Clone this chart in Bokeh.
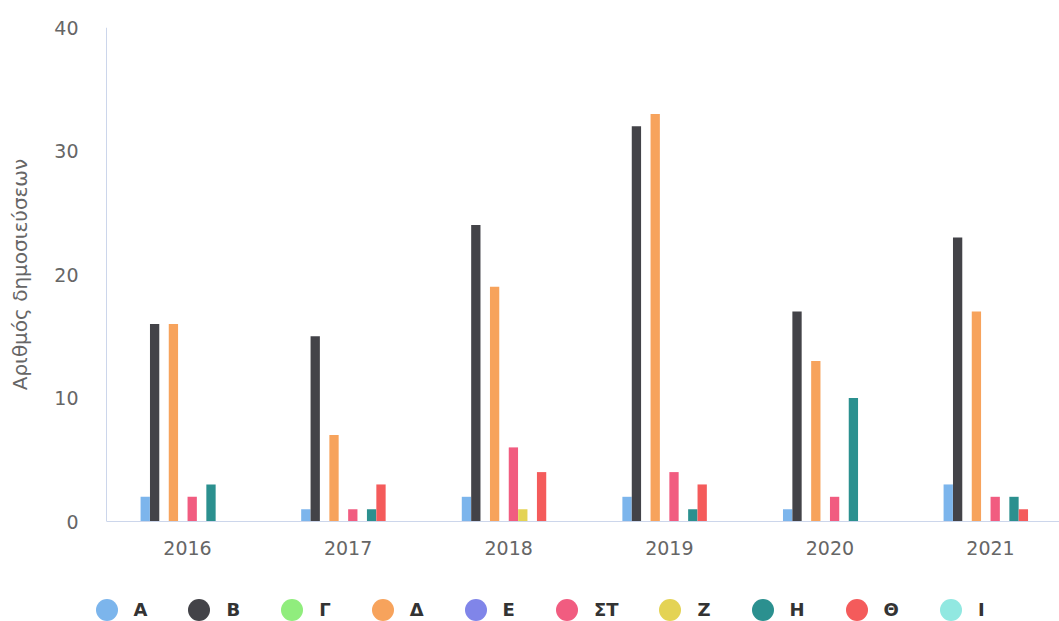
import numpy as np
from bokeh.plotting import figure
from bokeh.layouts import column
from bokeh.models import (Range1d, FixedTicker, Legend, LegendItem, ColumnDataSource,
                          Span)
from bokeh.transform import dodge
from bokeh.embed import file_html
from bokeh.resources import INLINE

years = ["2016", "2017", "2018", "2019", "2020", "2021"]
series_names = ["Α", "Β", "Γ", "Δ", "Ε", "ΣΤ", "Ζ", "Η", "Θ", "Ι"]
colors = ["#7cb5ec", "#434348", "#90ed7d", "#f7a35c", "#8085e9",
          "#f15c80", "#e4d354", "#2b908f", "#f45b5b", "#91e8e1"]

s_A = [2, 1, 2, 2, 1, 3]
s_B = [16, 15, 24, 32, 17, 23]
s_G = [0, 0, 0, 0, 0, 0]
s_D = [16, 7, 19, 33, 13, 17]
s_E = [0, 0, 0, 0, 0, 0]
s_ST = [2, 1, 6, 4, 2, 2]
s_Z = [0, 0, 1, 0, 0, 0]
s_H = [3, 1, 0, 1, 10, 2]
s_TH = [0, 3, 4, 3, 0, 1]
s_I = [0, 0, 0, 0, 0, 0]
series_values = [s_A, s_B, s_G, s_D, s_E, s_ST, s_Z, s_H, s_TH, s_I]

y_ticks = [0, 10, 20, 30, 40]

font = "DejaVu Sans"
W, H1, H2 = 1059, 570, 51
LEFT = 80
cat_px = 160.6
axis_x = -0.5044                      # category edge where the value axis sits
x_start = axis_x - (106 - LEFT) / cat_px
x_end = x_start + (W - LEFT) / cat_px

p = figure(width=W, height=H1, output_backend="svg", toolbar_location=None,
           x_range=Range1d(x_start, x_end), y_range=Range1d(0, 40),
           min_border_left=LEFT, min_border_right=0, min_border_top=27,
           min_border_bottom=H1 - 521)
p.outline_line_color = None
p.xgrid.visible = False
p.ygrid.visible = False
p.background_fill_color = "white"
p.border_fill_color = "white"

data = {"x": list(range(len(years)))}
for i, vals in enumerate(series_values):
    data[f"s{i}"] = vals
src = ColumnDataSource(data)

pitch = 0.0585
for i, col in enumerate(colors):
    p.vbar(x=dodge("x", (i - 4.5) * pitch), top=f"s{i}", bottom=0,
           width=pitch * 0.99, source=src, fill_color=col, line_color=None)

# value-axis line at the first category edge
p.add_layout(Span(location=axis_x, dimension="height", line_color="#ccd6eb",
                  line_width=1))

xa = p.xaxis[0]
xa.ticker = FixedTicker(ticks=list(range(len(years))))
xa.major_label_overrides = {i: y for i, y in enumerate(years)}
xa.bounds = (axis_x, x_end)
xa.axis_line_color = "#ccd6eb"
xa.major_tick_line_color = None
xa.minor_tick_line_color = None
xa.major_tick_out = 0
xa.major_tick_in = 0
xa.major_label_text_font = font
xa.major_label_text_font_size = "19px"
xa.major_label_text_color = "#666666"
xa.major_label_standoff = 19

ya = p.yaxis[0]
ya.ticker = FixedTicker(ticks=y_ticks)
ya.axis_line_color = None
ya.major_tick_line_color = None
ya.minor_tick_line_color = None
ya.major_tick_out = 0
ya.major_tick_in = 0
ya.major_label_text_font = font
ya.major_label_text_font_size = "19px"
ya.major_label_text_color = "#666666"
ya.major_label_standoff = 2
ya.axis_label = "Αριθμός δημοσιεύσεων"
ya.axis_label_text_font = font
ya.axis_label_text_font_size = "20px"
ya.axis_label_text_font_style = "normal"
ya.axis_label_text_color = "#666666"
ya.axis_label_standoff = 19

# legend strip below the chart
lf = figure(width=W, height=H2, output_backend="svg", toolbar_location=None,
            x_range=Range1d(0, 1), y_range=Range1d(0, 1),
            min_border=0, min_border_left=LEFT, x_axis_location=None, y_axis_location=None)
lf.outline_line_color = None
lf.xgrid.visible = False
lf.ygrid.visible = False
items = []
for name, col in zip(series_names, colors):
    r = lf.scatter(x=np.array([np.nan]), y=np.array([np.nan]), marker="circle",
                   fill_color=col, line_color=None)
    items.append(LegendItem(label=name, renderers=[r]))
legend = Legend(items=items, orientation="horizontal", location=(106 - 27.5 - LEFT, -15.5),
                glyph_width=55, glyph_height=55, label_standoff=0, spacing=24,
                padding=0, margin=0, label_width=0,
                label_text_font=font, label_text_font_size="18px",
                label_text_font_style="bold", label_text_color="#333333",
                background_fill_alpha=0, border_line_color=None)
lf.add_layout(legend)

layout = column(p, lf, spacing=0)
open("out.html", "w").write(file_html(layout, INLINE))
